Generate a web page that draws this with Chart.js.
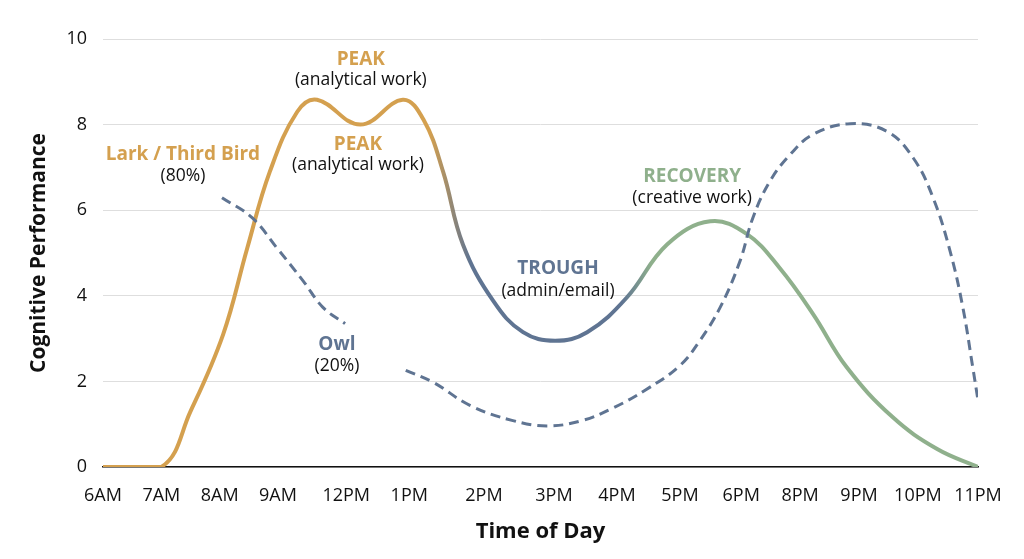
<!DOCTYPE html>
<html>
<head>
<meta charset="utf-8">
<script src="https://cdn.jsdelivr.net/npm/chart.js@4/dist/chart.umd.min.js"></script>
<style>
  html, body { margin: 0; padding: 0; background: #fff; }
  #wrap { width: 1024px; height: 559px; }
</style>
</head>
<body>
<div id="wrap"><canvas id="chart" width="1024" height="559"></canvas></div>
<script>
// Tick labels and where they sit on the x axis (axis runs 0..15)
const tickLabels = ['6AM', '7AM', '8AM', '9AM', '12PM', '1PM', '2PM', '3PM', '4PM', '5PM', '6PM', '8PM', '9PM', '10PM', '11PM'];
const tickPositions = [0, 1, 2, 3, 4.17, 5.25, 6.53, 7.73, 8.81, 9.89, 10.94, 11.95, 12.96, 13.97, 15];

// Lark / Third Bird curve (solid)
const larkX = [0, 1, 1.5, 2.06, 2.47, 2.86, 3.33, 3.67, 4.41, 5.14, 5.5, 5.83, 6.17, 6.69, 7.2, 7.75, 8.3, 8.98, 9.67, 10.41, 11.04, 11.6, 12.17, 12.75, 13.54, 14.3, 15];
const larkY = [0, 0, 1.3, 3.1, 5.1, 6.9, 8.3, 8.58, 8.0, 8.58, 8.1, 6.9, 5.2, 3.88, 3.15, 2.95, 3.15, 3.96, 5.2, 5.74, 5.44, 4.65, 3.58, 2.33, 1.16, 0.42, 0];

// Owl curve (dashed), drawn in two pieces
const owlMorningX = [2.04, 2.56, 2.98, 3.43, 3.77, 4.15];
const owlMorningY = [6.29, 5.82, 5.12, 4.35, 3.73, 3.35];
const owlLaterX = [5.19, 5.66, 6.29, 7.01, 7.61, 8.2, 8.73, 9.3, 9.89, 10.23, 10.58, 10.92, 11.14, 11.43, 11.78, 12.17, 12.81, 13.44, 13.89, 14.23, 14.52, 14.74, 14.91, 15.0];
const owlLaterY = [2.26, 1.98, 1.44, 1.09, 0.96, 1.08, 1.37, 1.8, 2.37, 2.95, 3.73, 4.81, 5.82, 6.67, 7.3, 7.77, 8.02, 7.84, 7.22, 6.29, 5.05, 3.73, 2.33, 1.56];

const ORANGE = '#D4A04F';
const SLATE = '#5F7492';
const SAGE = '#8FB08C';

// Text callouts: [x, y, text, colour, bold]
const notes = [
    [4.42, 9.53, 'PEAK', ORANGE, true],
    [4.42, 9.05, '(analytical work)', '#111', false],
    [4.37, 7.53, 'PEAK', ORANGE, true],
    [4.37, 7.05, '(analytical work)', '#111', false],
    [1.37, 7.30, 'Lark / Third Bird', ORANGE, true],
    [1.37, 6.79, '(80%)', '#111', false],
    [4.01, 2.86, 'Owl', SLATE, true],
    [4.01, 2.35, '(20%)', '#111', false],
    [7.80, 4.63, 'TROUGH', SLATE, true],
    [7.80, 4.12, '(admin/email)', '#111', false],
    [10.10, 6.79, 'RECOVERY', SAGE, true],
    [10.10, 6.28, '(creative work)', '#111', false]
];

const FONT = '"Open Sans", Lato, sans-serif';

function toPoints(xs, ys) {
    return xs.map((x, i) => ({ x: x, y: ys[i] }));
}

// horizontal colour change along the solid curve
function larkGradient(context) {
    const chart = context.chart;
    const area = chart.chartArea;
    if (!area) return ORANGE;
    const xs = chart.scales.x;
    const g = chart.ctx.createLinearGradient(area.left, 0, area.right, 0);
    const stop = v => (xs.getPixelForValue(v) - area.left) / (area.right - area.left);
    g.addColorStop(0, ORANGE);
    g.addColorStop(stop(5.6), ORANGE);
    g.addColorStop(stop(6.3), SLATE);
    g.addColorStop(stop(8.9), SLATE);
    g.addColorStop(stop(9.4), SAGE);
    g.addColorStop(1, SAGE);
    return g;
}

const notesPlugin = {
    id: 'notes',
    afterDatasetsDraw(chart) {
        const ctx = chart.ctx;
        ctx.save();
        ctx.textAlign = 'center';
        ctx.textBaseline = 'middle';
        notes.forEach(n => {
            ctx.font = (n[4] ? 'bold 19px ' : '17.5px ') + FONT;
            ctx.fillStyle = n[3];
            ctx.fillText(n[2], chart.scales.x.getPixelForValue(n[0]), chart.scales.y.getPixelForValue(n[1]));
        });
        ctx.restore();
    }
};

const owlStyle = {
    borderColor: SLATE,
    borderWidth: 3,
    borderDash: [10, 6],
    pointRadius: 0,
    fill: false,
    tension: 0.4
};

new Chart(document.getElementById('chart').getContext('2d'), {
    type: 'line',
    data: {
        datasets: [
            Object.assign({ label: 'Owl morning', data: toPoints(owlMorningX, owlMorningY) }, owlStyle),
            Object.assign({ label: 'Owl later', data: toPoints(owlLaterX, owlLaterY) }, owlStyle),
            {
                label: 'Lark / Third Bird',
                data: toPoints(larkX, larkY),
                borderColor: larkGradient,
                borderWidth: 4,
                pointRadius: 0,
                fill: false,
                tension: 0.4
            }
        ]
    },
    options: {
        responsive: false,
        animation: false,
        layout: { padding: { top: 39, right: 46, bottom: 10, left: 22 } },
        plugins: {
            legend: { display: false },
            tooltip: { enabled: false }
        },
        scales: {
            x: {
                type: 'linear',
                min: 0,
                max: 15,
                afterBuildTicks: scale => {
                    scale.ticks = tickPositions.map(v => ({ value: v }));
                },
                afterFit: scale => { scale.height = 82; },
                ticks: {
                    autoSkip: false,
                    maxRotation: 0,
                    color: '#111',
                    font: { family: FONT, size: 18 },
                    padding: 10,
                    callback: (value, i) => tickLabels[i]
                },
                grid: { display: false },
                border: { display: true, color: '#111', width: 1.5 },
                title: {
                    display: true,
                    text: 'Time of Day',
                    color: '#111',
                    font: { family: FONT, size: 22, weight: 'bold' },
                    padding: { top: 8 }
                }
            },
            y: {
                min: 0,
                max: 10,
                afterFit: scale => { scale.width = 81; },
                ticks: {
                    stepSize: 2,
                    color: '#111',
                    font: { family: FONT, size: 18 },
                    padding: 16
                },
                grid: { color: '#dedede', lineWidth: 1, drawTicks: false },
                border: { display: false },
                title: {
                    display: true,
                    text: 'Cognitive Performance',
                    color: '#111',
                    font: { family: FONT, size: 21, weight: 'bold' },
                    padding: { bottom: 12 }
                }
            }
        }
    },
    plugins: [notesPlugin]
});
</script>
</body>
</html>
